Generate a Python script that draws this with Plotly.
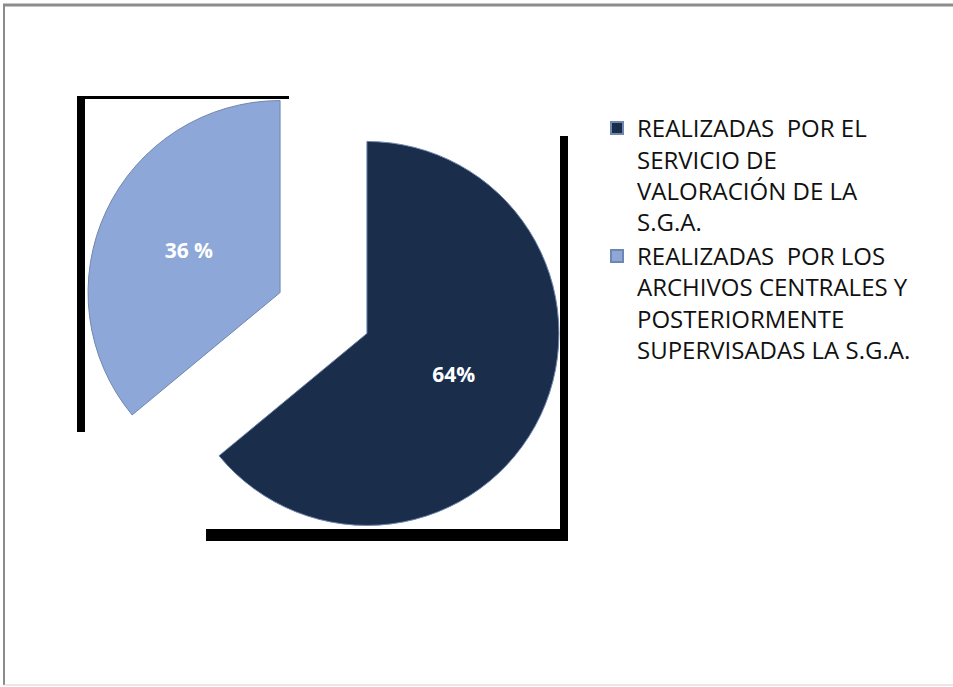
import plotly.graph_objects as go

W, H = 953, 687

labels = [
    "REALIZADAS  POR EL<br>SERVICIO DE<br>VALORACIÓN DE LA<br>S.G.A.",
    "REALIZADAS  POR LOS<br>ARCHIVOS CENTRALES Y<br>POSTERIORMENTE<br>SUPERVISADAS LA S.G.A.",
]
values = [64, 36]
value_text = ["64%", "36 %"]
colors = ["#1A2E4C", "#8DA8D8"]


def px_x(x):
    return x / W


def px_y(y):
    return 1 - y / H


fig = go.Figure(
    go.Pie(
        labels=labels,
        values=values,
        text=value_text,
        textinfo="text",
        textposition="inside",
        insidetextorientation="horizontal",
        textfont={"family": "Open Sans, sans-serif", "size": 21, "color": "white", "weight": "bold"},
        marker={"colors": colors, "line": {"color": "#6F86AE", "width": 1}},
        sort=False,
        direction="clockwise",
        rotation=0,
        pull=[0.25, 0.25],
        domain={"x": [px_x(83.5), px_x(563.5)], "y": [px_y(553), px_y(73)]},
        hoverinfo="label+percent",
    )
)

# black frame bars behind the slices and the outer chart border
bars = [
    (77, 96, 289, 99),
    (77, 96, 85, 432),
    (560, 136, 568, 541),
    (206, 529, 568, 541),
]
shapes = [
    dict(type="rect", xref="paper", yref="paper",
         x0=px_x(x0), x1=px_x(x1), y0=px_y(y1), y1=px_y(y0),
         fillcolor="black", line={"width": 0}, layer="below")
    for x0, y0, x1, y1 in bars
]
shapes.append(dict(type="line", xref="paper", yref="paper",
                   x0=px_x(3), x1=1, y0=px_y(5), y1=px_y(5),
                   line={"color": "#8C8C8C", "width": 3}))
shapes.append(dict(type="line", xref="paper", yref="paper",
                   x0=px_x(4), x1=px_x(4), y0=px_y(5), y1=px_y(685),
                   line={"color": "#8C8C8C", "width": 2}))
shapes.append(dict(type="line", xref="paper", yref="paper",
                   x0=px_x(4), x1=1, y0=px_y(685), y1=px_y(685),
                   line={"color": "#D0D0D0", "width": 1}))

fig.update_layout(
    width=W,
    height=H,
    margin=dict(l=0, r=0, t=0, b=0),
    paper_bgcolor="white",
    plot_bgcolor="white",
    font={"family": "Open Sans, sans-serif", "color": "#111111"},
    shapes=shapes,
    showlegend=True,
    legend=dict(
        x=px_x(597), y=px_y(106), xanchor="left", yanchor="top",
        font={"size": 24, "color": "#111111"},
        valign="top",
        itemsizing="constant",
    ),
)

# the page body has a default 8px margin; drop it so the chart sits at 0,0
fig.write_html(
    "out.html",
    config={"displayModeBar": False},
    post_script="document.body.style.margin='0';",
)
